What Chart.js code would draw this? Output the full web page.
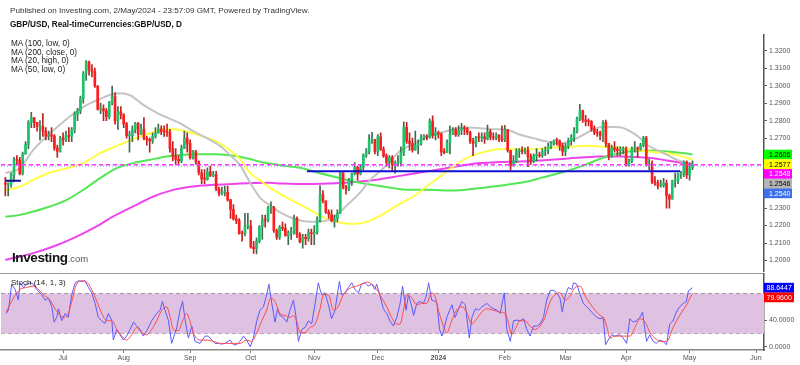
<!DOCTYPE html>
<html>
<head>
<meta charset="utf-8">
<script src="https://cdn.jsdelivr.net/npm/chart.js@4.4.1/dist/chart.umd.min.js"></script>
<style>
body { margin:0; width:800px; height:365px; background:#fff; position:relative; overflow:hidden; font-family:"Liberation Sans", Arial, sans-serif; }
canvas { position:absolute; left:0; }
#top { top:0; }
#bot { top:268px; }
.t { position:absolute; white-space:nowrap; line-height:1; }
#sep { position:absolute; left:0; top:272.5px; width:764px; height:1.4px; background:#9a9a9a; }
</style>
</head>
<body>
<canvas id="top" width="800" height="278"></canvas>
<div id="sep"></div>
<canvas id="bot" width="800" height="97"></canvas>

<div class="t" style="left:10px;top:6.5px;font-size:8.1px;color:#333">Published on Investing.com, 2/May/2024 - 23:57:09 GMT, Powered by TradingView.</div>
<div class="t" style="left:10px;top:21px;font-size:8.2px;font-weight:bold;color:#111">GBP/USD, Real-timeCurrencies:GBP/USD, D</div>
<div class="t" style="left:11px;top:40.3px;font-size:8.2px;color:#222">MA (100, low, 0)</div>
<div class="t" style="left:11px;top:48.8px;font-size:8.2px;color:#222">MA (200, close, 0)</div>
<div class="t" style="left:11px;top:57.3px;font-size:8.2px;color:#222">MA (20, high, 0)</div>
<div class="t" style="left:11px;top:65.8px;font-size:8.2px;color:#222">MA (50, low, 0)</div>
<div class="t" style="left:12px;top:251px;font-size:13.5px;font-weight:bold;color:#111;letter-spacing:-0.4px">Investing<span style="font-size:9.5px;font-weight:normal;color:#555;letter-spacing:0">.com</span></div>
<div class="t" style="left:11px;top:279px;font-size:8px;color:#222">Stoch (14, 1, 3)</div>

<script>
// bar index 0 = 5 Jun 2023, one bar per trading day, last bar = 2 May 2024
var monthIdx = [20, 41, 64, 85, 107, 129, 150, 173, 194, 215, 237, 260]
var monthLabels = ["Jul", "Aug", "Sep", "Oct", "Nov", "Dec", "2024", "Feb", "Mar", "Apr", "May", "Jun"]
var priceTicks = [1.20, 1.21, 1.22, 1.23, 1.24, 1.25, 1.26, 1.27, 1.28, 1.29, 1.30, 1.31, 1.32]
var stochTicks = [0, 40, 80]

var firstOpen = 1.2443
var closes = [
    // Jun
    1.2435, 1.2435, 1.2488, 1.2577, 1.2574, 1.2497, 1.2608, 1.2664, 1.2790, 1.2818, 1.2790, 1.2765, 1.2766, 1.2740, 1.2711, 1.2713, 1.2711, 1.2644, 1.2624, 1.2702,
    // Jul
    1.2688, 1.2716, 1.2710, 1.2747, 1.2836, 1.2857, 1.2927, 1.3070, 1.3135, 1.3091, 1.3082, 1.2998, 1.2866, 1.2868, 1.2855, 1.2822, 1.2903, 1.2937, 1.2798, 1.2851, 1.2834,
    // Aug
    1.2781, 1.2714, 1.2715, 1.2749, 1.2783, 1.2723, 1.2751, 1.2698, 1.2693, 1.2684, 1.2709, 1.2728, 1.2752, 1.2737, 1.2735, 1.2734, 1.2640, 1.2596, 1.2578, 1.2570, 1.2643, 1.2700, 1.2670,
    // Sep
    1.2586, 1.2623, 1.2565, 1.2502, 1.2467, 1.2465, 1.2507, 1.2487, 1.2491, 1.2408, 1.2382, 1.2389, 1.2390, 1.2347, 1.2292, 1.2238, 1.2228, 1.2154, 1.2153, 1.2197, 1.2199,
    // Oct
    1.2077, 1.2067, 1.2111, 1.2193, 1.2237, 1.2231, 1.2303, 1.2304, 1.2171, 1.2133, 1.2190, 1.2184, 1.2140, 1.2158, 1.2158, 1.2241, 1.2149, 1.2106, 1.2132, 1.2125, 1.2159, 1.2153,
    // Nov
    1.2161, 1.2231, 1.2379, 1.2342, 1.2276, 1.2263, 1.2226, 1.2238, 1.2270, 1.2501, 1.2420, 1.2408, 1.2460, 1.2495, 1.2533, 1.2495, 1.2532, 1.2603, 1.2621, 1.2692, 1.2693, 1.2624,
    // Dec
    1.2707, 1.2636, 1.2598, 1.2562, 1.2588, 1.2547, 1.2559, 1.2560, 1.2617, 1.2761, 1.2683, 1.2669, 1.2632, 1.2660, 1.2669, 1.2701, 1.2711, 1.2705, 1.2797, 1.2716, 1.2730,
    // Jan
    1.2723, 1.2621, 1.2617, 1.2675, 1.2720, 1.2747, 1.2718, 1.2744, 1.2755, 1.2753, 1.2733, 1.2683, 1.2670, 1.2703, 1.2702, 1.2707, 1.2695, 1.2737, 1.2707, 1.2701, 1.2717, 1.2694, 1.2690,
    // Feb
    1.2747, 1.2629, 1.2543, 1.2568, 1.2624, 1.2627, 1.2624, 1.2630, 1.2594, 1.2567, 1.2600, 1.2600, 1.2599, 1.2625, 1.2628, 1.2652, 1.2669, 1.2686, 1.2685, 1.2657, 1.2624,
    // Mar
    1.2652, 1.2686, 1.2704, 1.2740, 1.2810, 1.2857, 1.2804, 1.2796, 1.2795, 1.2753, 1.2732, 1.2729, 1.2716, 1.2790, 1.2669, 1.2597, 1.2644, 1.2636, 1.2628, 1.2636, 1.2638,
    // Apr
    1.2547, 1.2566, 1.2640, 1.2640, 1.2637, 1.2660, 1.2700, 1.2546, 1.2553, 1.2450, 1.2444, 1.2427, 1.2429, 1.2441, 1.2372, 1.2351, 1.2455, 1.2457, 1.2491, 1.2492, 1.2563, 1.2490,
    // May
    1.2532, 1.2548
]
var highs = [
    1.2475, 1.2446, 1.2500, 1.2590, 1.2600, 1.2590, 1.2620, 1.2680, 1.2800, 1.2848, 1.2800, 1.2790, 1.2800, 1.2841, 1.2760, 1.2740, 1.2760, 1.2720, 1.2660, 1.2710,
    1.2730, 1.2740, 1.2760, 1.2760, 1.2850, 1.2870, 1.2940, 1.3080, 1.3144, 1.3140, 1.3120, 1.3100, 1.3000, 1.2900, 1.2890, 1.2870, 1.2910, 1.2997, 1.2960, 1.2880, 1.2880,
    1.2840, 1.2790, 1.2740, 1.2770, 1.2790, 1.2790, 1.2780, 1.2818, 1.2710, 1.2700, 1.2730, 1.2760, 1.2780, 1.2770, 1.2770, 1.2780, 1.2750, 1.2680, 1.2640, 1.2600, 1.2660, 1.2740, 1.2730,
    1.2690, 1.2630, 1.2630, 1.2570, 1.2520, 1.2520, 1.2530, 1.2540, 1.2510, 1.2510, 1.2420, 1.2420, 1.2425, 1.2425, 1.2350, 1.2320, 1.2260, 1.2240, 1.2170, 1.2270, 1.2270,
    1.2230, 1.2110, 1.2130, 1.2200, 1.2260, 1.2260, 1.2310, 1.2335, 1.2310, 1.2180, 1.2200, 1.2220, 1.2210, 1.2170, 1.2190, 1.2260, 1.2250, 1.2160, 1.2150, 1.2150, 1.2180, 1.2180,
    1.2200, 1.2250, 1.2428, 1.2400, 1.2340, 1.2290, 1.2290, 1.2260, 1.2290, 1.2506, 1.2500, 1.2430, 1.2470, 1.2500, 1.2560, 1.2540, 1.2550, 1.2610, 1.2640, 1.2720, 1.2733, 1.2690,
    1.2720, 1.2730, 1.2650, 1.2610, 1.2600, 1.2600, 1.2570, 1.2600, 1.2650, 1.2793, 1.2790, 1.2730, 1.2700, 1.2740, 1.2690, 1.2720, 1.2720, 1.2720, 1.2810, 1.2827, 1.2760,
    1.2740, 1.2730, 1.2640, 1.2690, 1.2770, 1.2760, 1.2760, 1.2770, 1.2785, 1.2770, 1.2760, 1.2740, 1.2700, 1.2710, 1.2730, 1.2730, 1.2730, 1.2775, 1.2750, 1.2730, 1.2730, 1.2720, 1.2770,
    1.2773, 1.2750, 1.2630, 1.2600, 1.2640, 1.2640, 1.2650, 1.2645, 1.2650, 1.2610, 1.2610, 1.2640, 1.2620, 1.2640, 1.2650, 1.2670, 1.2680, 1.2690, 1.2700, 1.2690, 1.2670,
    1.2670, 1.2700, 1.2720, 1.2760, 1.2820, 1.2893, 1.2860, 1.2830, 1.2810, 1.2800, 1.2770, 1.2750, 1.2740, 1.2800, 1.2803, 1.2670, 1.2660, 1.2680, 1.2650, 1.2650, 1.2650,
    1.2650, 1.2580, 1.2650, 1.2680, 1.2650, 1.2670, 1.2710, 1.2710, 1.2580, 1.2570, 1.2480, 1.2460, 1.2460, 1.2470, 1.2460, 1.2380, 1.2460, 1.2500, 1.2500, 1.2510, 1.2570, 1.2570,
    1.2560, 1.2570
]
var lows = [
    1.2370, 1.2370, 1.2420, 1.2450, 1.2550, 1.2490, 1.2490, 1.2610, 1.2640, 1.2760, 1.2760, 1.2740, 1.2690, 1.2710, 1.2690, 1.2690, 1.2680, 1.2630, 1.2590, 1.2620,
    1.2660, 1.2680, 1.2680, 1.2680, 1.2730, 1.2800, 1.2840, 1.2900, 1.3030, 1.3060, 1.3050, 1.2990, 1.2860, 1.2840, 1.2800, 1.2800, 1.2810, 1.2890, 1.2780, 1.2750, 1.2810,
    1.2760, 1.2700, 1.2620, 1.2680, 1.2730, 1.2690, 1.2720, 1.2690, 1.2660, 1.2620, 1.2670, 1.2700, 1.2740, 1.2720, 1.2710, 1.2710, 1.2620, 1.2570, 1.2550, 1.2550, 1.2560, 1.2640, 1.2620,
    1.2580, 1.2580, 1.2550, 1.2490, 1.2440, 1.2440, 1.2460, 1.2480, 1.2480, 1.2400, 1.2370, 1.2375, 1.2370, 1.2340, 1.2240, 1.2230, 1.2210, 1.2150, 1.2110, 1.2140, 1.2180,
    1.2070, 1.2040, 1.2037, 1.2100, 1.2120, 1.2190, 1.2220, 1.2270, 1.2160, 1.2120, 1.2120, 1.2170, 1.2140, 1.2090, 1.2120, 1.2150, 1.2130, 1.2100, 1.2070, 1.2090, 1.2110, 1.2090,
    1.2090, 1.2150, 1.2220, 1.2330, 1.2270, 1.2240, 1.2220, 1.2190, 1.2220, 1.2280, 1.2410, 1.2380, 1.2400, 1.2430, 1.2490, 1.2460, 1.2490, 1.2520, 1.2590, 1.2610, 1.2670, 1.2610,
    1.2600, 1.2630, 1.2590, 1.2540, 1.2530, 1.2510, 1.2500, 1.2540, 1.2540, 1.2600, 1.2670, 1.2630, 1.2620, 1.2630, 1.2610, 1.2660, 1.2690, 1.2690, 1.2700, 1.2700, 1.2690,
    1.2700, 1.2600, 1.2610, 1.2620, 1.2610, 1.2720, 1.2710, 1.2710, 1.2720, 1.2720, 1.2720, 1.2670, 1.2600, 1.2650, 1.2680, 1.2680, 1.2670, 1.2690, 1.2690, 1.2690, 1.2690, 1.2680, 1.2680,
    1.2680, 1.2620, 1.2518, 1.2540, 1.2560, 1.2590, 1.2610, 1.2610, 1.2536, 1.2550, 1.2560, 1.2570, 1.2590, 1.2590, 1.2600, 1.2610, 1.2640, 1.2660, 1.2660, 1.2630, 1.2600,
    1.2600, 1.2640, 1.2660, 1.2680, 1.2730, 1.2800, 1.2790, 1.2770, 1.2770, 1.2740, 1.2720, 1.2710, 1.2690, 1.2680, 1.2650, 1.2575, 1.2590, 1.2620, 1.2600, 1.2600, 1.2610,
    1.2540, 1.2540, 1.2560, 1.2620, 1.2590, 1.2630, 1.2650, 1.2540, 1.2520, 1.2440, 1.2430, 1.2410, 1.2420, 1.2420, 1.2300, 1.2300, 1.2360, 1.2420, 1.2440, 1.2470, 1.2480, 1.2470,
    1.2460, 1.2520
]

// moving averages, [bar index, price]
var maHigh20 = [[0,1.2500],[5,1.2529],[9.7,1.2633],[14.3,1.2710],[18.9,1.2777],[24.7,1.2852],[29.4,1.2900],[32.8,1.2923],[36.3,1.2948],[39.7,1.2957],[43.2,1.2945],[47.8,1.2890],[53,1.2840],[60.5,1.2785],[65.1,1.2740],[69.8,1.2700],[74.4,1.2655],[78,1.2600],[81.3,1.2545],[84.8,1.2445],[88.2,1.2360],[91.7,1.2315],[95.2,1.2275],[99.8,1.2240],[104.4,1.2223],[108,1.2222],[112.5,1.2235],[115,1.2265],[118.3,1.2315],[122.9,1.2390],[126.3,1.2460],[129.8,1.2510],[133.2,1.2565],[136.7,1.2628],[141.3,1.2665],[145.9,1.2705],[150.6,1.2729],[155.2,1.2751],[159.8,1.2760],[164.4,1.2757],[169.1,1.2751],[173.7,1.2748],[178.3,1.2719],[182.9,1.2700],[187.5,1.2680],[192.1,1.2671],[196.7,1.2690],[200.2,1.2719],[203.7,1.2751],[207.1,1.2763],[210.6,1.2763],[214.1,1.2757],[217.5,1.2728],[219.8,1.2700],[222.2,1.2662],[225.6,1.2633],[229.1,1.2605],[232.5,1.2576],[236,1.2557],[238,1.2546]]
var maLow50 = [[0,1.2402],[5.1,1.2423],[9.7,1.2461],[15.5,1.2503],[21.3,1.2528],[27,1.2557],[32.8,1.2614],[38.6,1.2656],[44.3,1.2694],[50.1,1.2726],[55,1.2750],[58.2,1.2751],[62.9,1.2738],[67.4,1.2715],[72.1,1.2688],[76.7,1.2645],[81.3,1.2580],[84.8,1.2500],[88.2,1.2460],[91.7,1.2415],[95.2,1.2380],[98.6,1.2350],[102.1,1.2320],[105.5,1.2290],[109,1.2255],[112.5,1.2232],[115.9,1.2217],[119.4,1.2210],[122.9,1.2212],[126.3,1.2228],[129.8,1.2255],[133.2,1.2290],[136.7,1.2325],[141.3,1.2366],[145.9,1.2423],[150.6,1.2480],[155.2,1.2537],[159.8,1.2585],[164.4,1.2614],[169.1,1.2633],[173.7,1.2637],[178.3,1.2635],[182.9,1.2637],[187.5,1.2643],[192.1,1.2648],[196.7,1.2652],[201.4,1.2656],[206,1.2652],[210.6,1.2648],[215.2,1.2640],[219.8,1.2629],[224.4,1.2620],[229.1,1.2614],[233.7,1.2600],[238,1.2577]]
var maLow100 = [[0,1.2250],[5.1,1.2261],[9.7,1.2280],[15.5,1.2309],[21.3,1.2347],[27,1.2404],[32.8,1.2471],[38.6,1.2528],[44.3,1.2557],[50.1,1.2576],[55.9,1.2595],[61.7,1.2605],[67.4,1.2608],[73.2,1.2608],[79,1.2599],[84.8,1.2580],[88.2,1.2565],[95.2,1.2545],[102.1,1.2530],[106.7,1.2509],[113.6,1.2480],[120.5,1.2452],[127.5,1.2432],[134.4,1.2414],[139,1.2404],[145.9,1.2404],[155.2,1.2400],[162.1,1.2410],[169.1,1.2423],[176,1.2439],[181.7,1.2455],[185.2,1.2471],[192.1,1.2500],[199.1,1.2537],[203.7,1.2566],[208.3,1.2595],[212.9,1.2614],[217.5,1.2626],[222.2,1.2629],[226.8,1.2627],[231.4,1.2620],[236,1.2612],[238,1.2606]]
var maClose200 = [[0,1.2003],[2.8,1.2014],[9.7,1.2042],[16.6,1.2080],[23.6,1.2128],[30.5,1.2185],[37.4,1.2252],[44.3,1.2309],[51.3,1.2366],[58.2,1.2404],[65.1,1.2423],[72.1,1.2433],[79,1.2438],[85.9,1.2443],[91.7,1.2444],[95.2,1.2441],[102.1,1.2437],[109,1.2439],[115.9,1.2443],[122.9,1.2452],[129.8,1.2465],[136.7,1.2484],[143.6,1.2503],[150.6,1.2522],[157.5,1.2541],[164.4,1.2557],[171.3,1.2563],[178.3,1.2566],[185.2,1.2572],[192.1,1.2580],[199.1,1.2589],[206,1.2595],[212.9,1.2595],[219.8,1.2591],[224.4,1.2585],[229.1,1.2572],[233.7,1.2560],[238,1.2550]]

// horizontal lines: price line, bid line, drawn support, old level
var hLevels = [1.2548, 1.2540, 1.2510, 1.2456]
var hFrom = [-1.5, -1.5, 104.5, 0]
var hTo = [262.77, 262.77, 233.7, 5.4]

// right axis tags
var priceTags = [1.2606, 1.2577, 1.2548, 1.2546, 1.2540]
var stochTags = [88.6447, 79.9600]

// stochastic %K and %D, [bar index, value]
var stochK = [[0.3,50],[1.1,55],[2.2,94],[3.4,86],[4.5,70],[5.1,96],[6.3,89],[7.4,94],[8.6,96],[9.7,94],[10.9,86],[12.6,78],[13.8,70],[14.9,73],[16.1,60],[16.9,37],[17.8,44],[18.4,57],[19.5,39],[20.7,50],[21.8,44],[23,78],[24.2,96],[25.3,99],[26.5,98],[27.6,99],[28.8,89],[29.9,81],[31.1,65],[32.2,44],[33.4,39],[34.5,35],[35.7,50],[36.9,39],[37.4,10],[38.6,26],[39.7,18],[40.9,10],[42,16],[43.2,26],[44.4,37],[45.5,31],[46.7,26],[47.8,16],[49,24],[50.7,39],[52.4,50],[53.6,55],[54.4,68],[55.3,55],[56.5,39],[57.6,5],[59.4,29],[60.5,55],[61.4,68],[62.3,39],[63.4,13],[64.6,31],[65.7,8],[67.4,5],[69.2,16],[70.3,16],[71.5,10],[72.6,5],[73.8,5],[74.9,4],[76.1,5],[77.8,10],[79,3],[80.1,3],[81.3,8],[82.5,16],[83.6,10],[84.8,0],[85.9,13],[87.1,39],[88.2,55],[89.4,60],[90.5,78],[91.3,94],[92.3,65],[93.4,37],[94.3,57],[95.1,47],[96.3,44],[97.5,37],[98.6,55],[99.8,70],[100.6,47],[101.5,8],[102.7,26],[103.8,29],[105,39],[106.1,34],[107.3,65],[108.4,96],[109,86],[109.6,78],[110.7,81],[111.9,63],[113,42],[114.2,55],[115.7,98],[116.5,78],[117.7,81],[118.8,89],[120,96],[121.1,86],[122.3,81],[123.4,94],[124.6,96],[125.7,91],[126.9,94],[128,86],[128.6,94],[129.8,76],[130.9,57],[132.1,50],[133.2,39],[134.4,31],[135.6,44],[136.7,64],[137.6,91],[138.8,55],[139.6,78],[140.8,60],[141.4,47],[142.5,65],[143.7,68],[144.8,65],[145.8,76],[146.6,96],[147.7,70],[148.9,68],[149.5,65],[150.4,26],[151.2,16],[151.8,24],[152.9,44],[154.7,63],[155.8,44],[157,57],[158.1,68],[159.3,63],[160.7,13],[161.6,44],[162.8,57],[163.9,55],[165.1,60],[166.8,65],[168,60],[169.1,57],[170.3,55],[171.4,50],[172.8,81],[173.7,26],[174.9,8],[176,39],[177.2,40],[178.3,39],[179.5,42],[180.6,26],[181.8,16],[182.9,31],[184.1,31],[185.2,34],[186.4,44],[187.5,70],[188.7,84],[189.8,85],[191,81],[192.1,73],[192.9,52],[193.9,76],[195,89],[196.2,86],[196.8,96],[197.9,94],[199.1,78],[200.2,65],[201.4,60],[203.1,52],[204.8,44],[206,42],[207.1,44],[207.9,3],[208.8,10],[210,18],[211.1,16],[212.9,18],[214,13],[215.2,5],[216.3,42],[217.5,37],[218.6,39],[219.8,44],[220.7,52],[221.5,26],[222.1,8],[223.2,18],[224.4,8],[225.5,5],[226.7,10],[227.8,8],[229,3],[230.1,34],[231.3,39],[232.4,52],[233.6,60],[234.8,65],[235.9,68],[236.6,84],[238,88.6447]]
var stochD = [[0.3,52],[2.8,73],[5.1,86],[7.4,89],[9.7,91],[11.5,86],[13.2,78],[15.5,70],[17.2,57],[18.4,50],[20.1,44],[21.8,50],[23,68],[24.7,94],[26.5,99],[28.2,97],[29.9,86],[31.7,68],[33.4,50],[35.1,39],[36.9,39],[38.6,26],[40.3,16],[42,10],[43.8,18],[45.5,29],[47.2,21],[49,18],[50.7,26],[52.4,39],[54.2,55],[55.9,60],[57.1,44],[58.2,26],[59.9,24],[61.4,39],[62.8,50],[63.9,39],[65.1,21],[67.4,10],[69.8,10],[72.1,8],[74.4,5],[76.7,5],[79,5],[81.3,5],[83.6,10],[85.3,8],[87.1,21],[88.8,39],[90.5,55],[91.9,73],[93.4,68],[95.1,50],[96.9,47],[98.6,44],[99.8,47],[100.9,39],[102.1,21],[103.8,21],[105.5,29],[107.3,34],[109,57],[110.2,78],[111.9,78],[113.6,55],[115.3,60],[116.5,73],[118.2,84],[120,89],[121.7,91],[123.4,94],[125.2,97],[126.9,94],[128.6,86],[130.4,73],[132.1,60],[133.8,44],[135.6,34],[136.7,34],[137.9,55],[139,78],[140.8,73],[142.5,63],[144.2,65],[145.9,65],[147.7,81],[148.8,76],[150,55],[151.5,34],[152.9,21],[154.6,39],[156.3,55],[158.1,60],[159.8,52],[161.5,34],[163.3,42],[165,52],[166.7,57],[169,55],[171.3,52],[173.1,50],[174.2,37],[175.4,18],[176.5,26],[178.3,39],[180,39],[181.7,31],[183.5,26],[185.2,31],[186.9,44],[188.7,68],[190.4,78],[192.1,81],[193.9,70],[195.6,76],[197.3,89],[199.1,91],[200.8,76],[202.5,65],[204.2,55],[206,47],[207.4,42],[208.3,31],[209.4,13],[211.2,16],[212.9,16],[214.6,16],[216.4,16],[218.1,29],[219.8,42],[221.6,37],[223.3,21],[225,13],[226.8,8],[228.5,8],[229.6,10],[230.8,24],[232.5,39],[234.3,52],[236,63],[237.1,73],[238,79.96]]
var stochBand = [20, 80]

var X_MIN = -1.5, X_MAX = 262.77
var FONT = '"Liberation Sans", Arial, sans-serif'

var opens = closes.map(function(c, i) { return i === 0 ? firstOpen : closes[i - 1] })
var upBar = closes.map(function(c, i) { return c >= opens[i] })

function pts(arr) {
    return arr.map(function(p) { return {x: p[0], y: p[1]} })
}

function lineSet(arr, color, width, tension) {
    return {
        type: 'line',
        data: pts(arr),
        borderColor: color,
        borderWidth: width,
        pointRadius: 0,
        fill: false,
        tension: tension,
        cubicInterpolationMode: tension ? 'monotone' : 'default'
    }
}

function hLine(k, color, width, dash) {
    return {
        type: 'line',
        data: [{x: hFrom[k], y: hLevels[k]}, {x: hTo[k], y: hLevels[k]}],
        borderColor: color,
        borderWidth: width,
        borderDash: dash,
        pointRadius: 0,
        fill: false
    }
}

// coloured value boxes on the right axis, pushed down when they overlap
function tagPlugin(values, bgs, fgs, boxW, textX) {
    return {
        id: 'tags',
        afterDraw: function(chart) {
            var ctx = chart.ctx
            var scale = chart.scales.y
            var left = chart.chartArea.right
            var prev = -1000
            var h = 9.7
            ctx.save()
            ctx.font = '7px ' + FONT
            ctx.textBaseline = 'middle'
            values.forEach(function(v, k) {
                var y = Math.max(scale.getPixelForValue(v), prev + h)
                prev = y
                ctx.fillStyle = bgs[k]
                ctx.fillRect(left, y - h / 2, boxW, h)
                ctx.fillStyle = fgs[k]
                ctx.fillText(v.toFixed(4), left + textX, y + 0.5)
            })
            ctx.restore()
        }
    }
}

var topChart = new Chart(document.getElementById('top'), {
    type: 'bar',
    data: {
        datasets: [
            hLine(0, '#ff33ff', 1.5, [4, 3]),
            hLine(1, '#7f9bff', 1, [1, 2]),
            hLine(2, '#1010d0', 2, []),
            hLine(3, '#10108a', 2, []),
            {
                data: closes.map(function(c, i) { return {x: i, y: [opens[i], c]} }),
                backgroundColor: upBar.map(function(u) { return u ? '#1bc46a' : '#ff1c1c' }),
                barThickness: 2,
                minBarLength: 1,
                grouped: false,
                borderWidth: 0
            },
            {
                data: closes.map(function(c, i) {
                    return {x: i, y: [Math.min(lows[i], opens[i], c), Math.max(highs[i], opens[i], c)]}
                }),
                backgroundColor: upBar.map(function(u) { return u ? '#3f6b4f' : '#c02020' }),
                barThickness: 1,
                grouped: false,
                borderWidth: 0
            },
            lineSet(maHigh20, '#c4c4c4', 2, 0.4),
            lineSet(maLow50, '#ffff44', 2, 0.4),
            lineSet(maLow100, '#55e655', 2, 0.4),
            lineSet(maClose200, '#ee44ee', 2, 0.4)
        ]
    },
    options: {
        responsive: false,
        animation: false,
        layout: {padding: {left: 1, top: 35, right: 0, bottom: 1}},
        plugins: {legend: {display: false}, tooltip: {enabled: false}},
        scales: {
            x: {type: 'linear', min: X_MIN, max: X_MAX, display: false, offset: false},
            y: {
                type: 'linear',
                position: 'right',
                min: 1.19354,
                max: 1.32897,
                afterBuildTicks: function(s) { s.ticks = priceTicks.map(function(v) { return {value: v} }) },
                afterFit: function(s) { s.width = 36 },
                ticks: {
                    callback: function(v) { return v.toFixed(4) },
                    font: {size: 7, family: FONT},
                    color: '#555',
                    padding: 2
                },
                grid: {drawOnChartArea: false, tickLength: 3, color: '#555'},
                border: {color: '#555', width: 1.5}
            }
        }
    },
    plugins: [tagPlugin(priceTags,
        ['#00ff00', '#ffff00', '#ff00ff', '#b4b4b4', '#3d6fe6'],
        ['#000', '#000', '#fff', '#000', '#fff'], 28, 5)]
})

var botChart = new Chart(document.getElementById('bot'), {
    type: 'line',
    data: {
        datasets: [
            lineSet(stochD, '#ff4a4a', 1, 0.3),
            lineSet(stochK, '#5a5aff', 1, 0),
            {
                data: [{x: X_MIN, y: stochBand[1]}, {x: X_MAX, y: stochBand[1]}],
                borderColor: '#999',
                borderWidth: 1,
                borderDash: [4, 3],
                pointRadius: 0,
                fill: '+1',
                backgroundColor: '#dfc2e1'
            },
            {
                data: [{x: X_MIN, y: stochBand[0]}, {x: X_MAX, y: stochBand[0]}],
                borderColor: '#888',
                borderWidth: 1,
                borderDash: [4, 3],
                pointRadius: 0,
                fill: false
            }
        ]
    },
    options: {
        responsive: false,
        animation: false,
        layout: {padding: {left: 1, top: 1, right: 0, bottom: 0}},
        plugins: {legend: {display: false}, tooltip: {enabled: false}},
        scales: {
            x: {
                type: 'linear',
                min: X_MIN,
                max: X_MAX,
                afterBuildTicks: function(s) { s.ticks = monthIdx.map(function(v) { return {value: v} }) },
                afterFit: function(s) { s.height = 15 },
                ticks: {
                    autoSkip: false,
                    maxRotation: 0,
                    callback: function(v) { return monthLabels[monthIdx.indexOf(v)] },
                    font: function(c) {
                        return {size: 7, family: FONT, weight: (c.tick && c.tick.value === 150) ? 'bold' : 'normal'}
                    },
                    color: '#555',
                    padding: 1
                },
                grid: {drawOnChartArea: false, tickLength: 3, color: '#777'},
                border: {color: '#888', width: 1.5}
            },
            y: {
                type: 'linear',
                position: 'right',
                min: -4.9,
                max: 108.9,
                afterBuildTicks: function(s) { s.ticks = stochTicks.map(function(v) { return {value: v} }) },
                afterFit: function(s) { s.width = 36 },
                ticks: {
                    callback: function(v) { return v.toFixed(4) },
                    font: {size: 7, family: FONT},
                    color: '#555',
                    padding: 2
                },
                grid: {drawOnChartArea: false, tickLength: 3, color: '#555'},
                border: {color: '#555', width: 1.5}
            }
        }
    },
    plugins: [tagPlugin(stochTags, ['#0000ff', '#ff0000'], ['#fff', '#fff'], 30, 2.5)]
})
</script>
</body>
</html>
